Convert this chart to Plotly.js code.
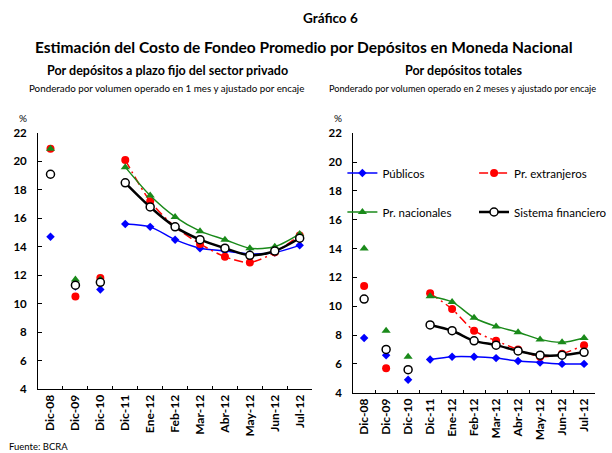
<!DOCTYPE html>
<html>
<head>
<meta charset="utf-8">
<script src="https://cdn.plot.ly/plotly-3.0.1.min.js"></script>
<style>html,body{margin:0;padding:0;background:#fff;}#chart{width:612px;height:453px;}</style>
</head>
<body>
<div id="chart"></div>
<script>
// ---- Data ----
const categories = ['Dic-08','Dic-09','Dic-10','Dic-11','Ene-12','Feb-12','Mar-12','Abr-12','May-12','Jun-12','Jul-12'];
const seriesNames = ['Públicos','Pr. extranjeros','Pr. nacionales','Sistema financiero'];

// Left: depósitos a plazo fijo del sector privado
const publicosPF     = [14.7, 11.2, 11.0, 15.6, 15.4, 14.5, 13.9, 13.7, 13.5, 13.6, 14.1];
const extranjerosPF  = [20.9, 10.5, 11.8, 20.1, 17.2, 15.4, 14.2, 13.3, 12.9, 13.6, 14.8];
const nacionalesPF   = [20.9, 11.7, 11.7, 19.6, 17.6, 16.1, 15.1, 14.5, 13.9, 14.0, 14.9];
const sistemaPF      = [19.1, 11.3, 11.5, 18.5, 16.8, 15.4, 14.5, 13.9, 13.4, 13.7, 14.6];

// Right: depósitos totales
const publicosTot    = [7.8, 6.6, 4.9, 6.3, 6.5, 6.5, 6.4, 6.2, 6.1, 6.0, 6.0];
const extranjerosTot = [11.4, 5.7, 5.6, 10.9, 9.8, 8.3, 7.6, 7.0, 6.5, 6.7, 7.3];
const nacionalesTot  = [14.0, 8.3, 6.5, 10.7, 10.3, 9.2, 8.6, 8.2, 7.7, 7.5, 7.8];
const sistemaTot     = [10.5, 7.0, 5.6, 8.7, 8.3, 7.6, 7.3, 6.9, 6.6, 6.6, 6.8];

const yTickVals = [4, 6, 8, 10, 12, 14, 16, 18, 20, 22];

// ---- Styles ----
const FONT = 'Lato, "Open Sans", sans-serif';
const styles = [
  {marker: {symbol: 'diamond', size: 6.5, color: '#0000ff'}, line: {color: '#0000ff', width: 1.5}},
  {marker: {symbol: 'circle', size: 8, color: '#ff0000'}, line: {color: '#ff0000', width: 1.5, dash: '9px,4px,2px,4px'}},
  {marker: {symbol: 'triangle-up', size: 8, color: '#1a8a1a', line: {color: '#1a8a1a', width: 0}}, line: {color: '#1a8a1a', width: 1.5}},
  {marker: {symbol: 'circle', size: 8, color: '#ffffff', line: {color: '#000000', width: 1.5}}, line: {color: '#000000', width: 2.5}}
];
const legendIds = ['legend', 'legend2', 'legend3', 'legend4'];

const traces = [];
function addSeries(values, idx, xa, ya, showLeg) {
  const s = styles[idx];
  // disconnected annual points (first three categories)
  traces.push({
    type: 'scatter', mode: 'markers',
    x: categories.slice(0, 3), y: values.slice(0, 3),
    xaxis: xa, yaxis: ya, marker: s.marker, showlegend: false, hoverinfo: 'skip'
  });
  // monthly connected series
  traces.push({
    type: 'scatter', mode: 'lines+markers', name: seriesNames[idx],
    x: categories.slice(3), y: values.slice(3),
    xaxis: xa, yaxis: ya, marker: s.marker,
    line: Object.assign({shape: 'spline', smoothing: 0.8}, s.line),
    showlegend: showLeg, legend: legendIds[idx]
  });
}
const left = [publicosPF, extranjerosPF, nacionalesPF, sistemaPF];
const right = [publicosTot, extranjerosTot, nacionalesTot, sistemaTot];
left.forEach((v, i) => addSeries(v, i, 'x', 'y', false));
right.forEach((v, i) => addSeries(v, i, 'x2', 'y2', true));

const W = 612, H = 453;
const px = x => x / W;
const py = y => 1 - y / H;

const xaxisBase = {
  type: 'category', categoryorder: 'array', categoryarray: categories,
  range: [-0.5, 10.5], showgrid: false, zeroline: false,
  showline: true, linecolor: '#000', linewidth: 1,
  ticks: 'inside', ticklen: 3, tickcolor: '#000', tickson: 'boundaries',
  tickangle: -90, tickfont: {family: FONT, size: 12, color: '#000', weight: 'bold'},
  fixedrange: true
};
const yaxisBase = {
  range: [4, 22], tickvals: yTickVals, showgrid: false, zeroline: false,
  showline: true, linecolor: '#000', linewidth: 1,
  ticks: 'inside', ticklen: 4, tickcolor: '#000', ticklabelstandoff: 8,
  tickfont: {family: FONT, size: 11.5, color: '#000', weight: 'bold'},
  fixedrange: true
};

function legendAt(x, y) {
  return {x: px(x), y: py(y), xanchor: 'left', yanchor: 'middle', orientation: 'h',
    bgcolor: 'rgba(0,0,0,0)', borderwidth: 0, font: {family: FONT, size: 11.5, color: '#000'}};
}

const ann = (text, x, y, size, bold, xanchor) => ({
  text: text, x: px(x), y: py(y), xref: 'paper', yref: 'paper',
  xanchor: xanchor || 'center', yanchor: 'middle', showarrow: false,
  font: {family: FONT, size: size, color: '#000', weight: bold ? 'bold' : 'normal'}
});

const layout = {
  width: W, height: H,
  margin: {l: 0, r: 0, t: 0, b: 0},
  paper_bgcolor: '#fff', plot_bgcolor: '#fff',
  font: {family: FONT, color: '#000'},
  xaxis: Object.assign({}, xaxisBase, {domain: [px(39), px(320)], anchor: 'y'}),
  yaxis: Object.assign({}, yaxisBase, {domain: [py(389), py(133)], anchor: 'x'}),
  xaxis2: Object.assign({}, xaxisBase, {domain: [px(362), px(610)], anchor: 'y2'}),
  yaxis2: Object.assign({}, yaxisBase, {domain: [py(392.7), py(133.3)], anchor: 'x2'}),
  legend: legendAt(351, 173),
  legend2: legendAt(486, 173),
  legend3: legendAt(351, 212),
  legend4: legendAt(486, 212),
  showlegend: true,
  annotations: [
    ann('Gráfico 6', 339, 18, 13.5, true),
    ann('Estimación del Costo de Fondeo Promedio por Depósitos en Moneda Nacional', 312, 47, 15.5, true),
    ann('Por depósitos a plazo fijo del sector privado', 172, 70, 12.5, true),
    ann('Ponderado por volumen operado en 1 mes y ajustado por encaje', 171, 88, 9.8, false),
    ann('Por depósitos totales', 476, 70, 12.5, true),
    ann('Ponderado por volumen operado en 2 meses y ajustado por encaje', 474, 88, 9.2, false),
    ann('%', 24, 118, 10, false),
    ann('%', 346, 118, 10, false),
    ann('Fuente: BCRA', 7, 446, 9.5, false, 'left')
  ]
};

Plotly.newPlot('chart', traces, layout, {displayModeBar: false, staticPlot: true});
</script>
</body>
</html>
